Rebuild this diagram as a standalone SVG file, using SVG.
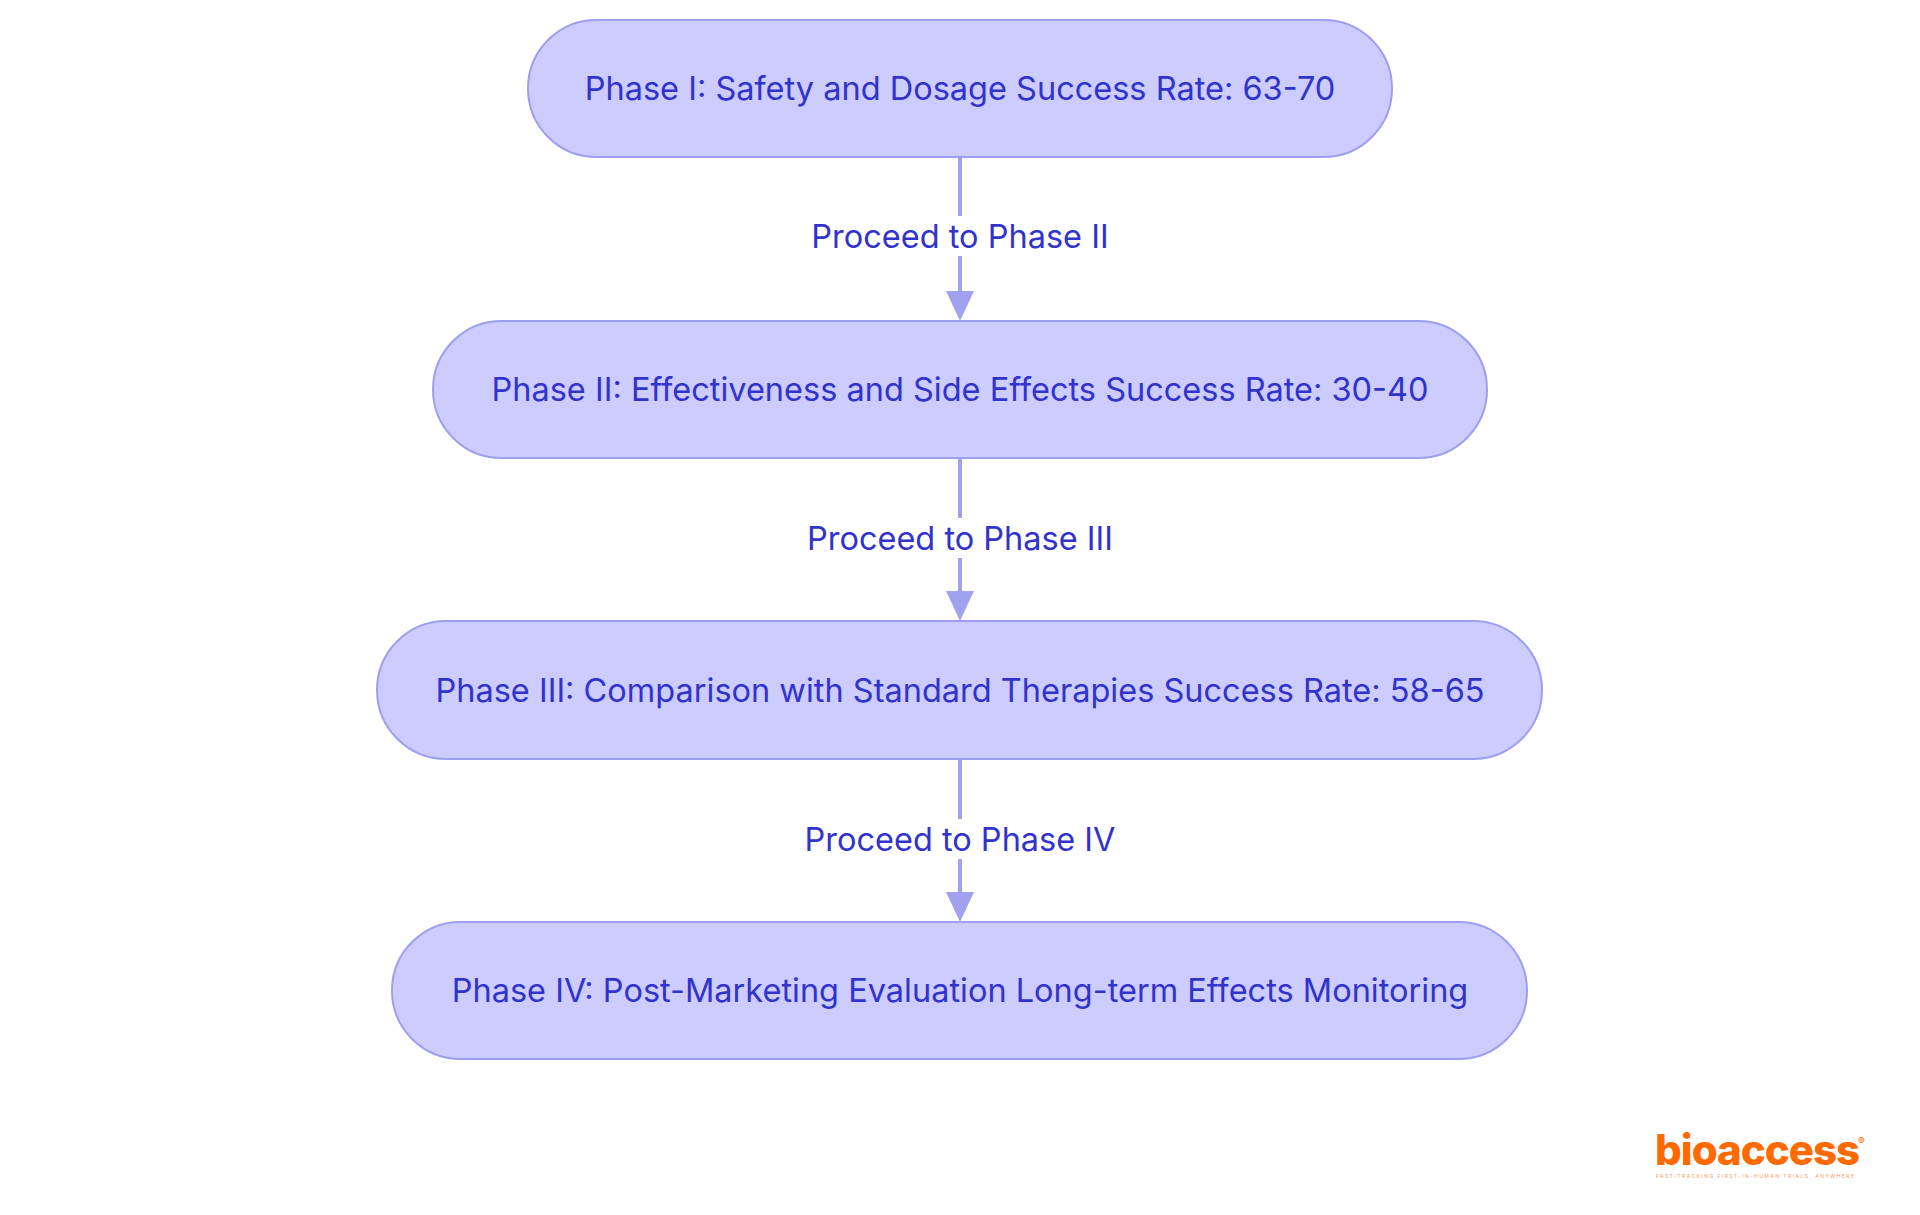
<svg xmlns="http://www.w3.org/2000/svg" width="1920" height="1215" viewBox="0 0 1920 1215">
<style>
.n{fill:#ccccff;stroke:#9d9ff0;stroke-width:2}
.t{font-family:Inter,"Noto Sans",sans-serif;font-size:32.5px;fill:#3232cc;text-anchor:middle;dominant-baseline:central}
.e{stroke:#a0a2f0;stroke-width:4;fill:none}
.h{fill:#a0a2f0}
.lb{fill:#ffffff}
</style>
<rect width="1920" height="1215" fill="#fff"/>
<g id="edges">
<line class="e" x1="960" y1="157" x2="960" y2="291"/><path class="h" d="M946,291 L974,291 L960,321 Z"/>
<rect class="lb" x="800" y="216" width="320" height="40"/><text class="t" x="960" y="236">Proceed to Phase II</text>
<line class="e" x1="960" y1="458" x2="960" y2="591"/><path class="h" d="M946,591 L974,591 L960,621 Z"/>
<rect class="lb" x="795" y="518" width="330" height="40"/><text class="t" x="960" y="538">Proceed to Phase III</text>
<line class="e" x1="960" y1="759" x2="960" y2="892"/><path class="h" d="M946,892 L974,892 L960,922 Z"/>
<rect class="lb" x="793" y="819" width="334" height="40"/><text class="t" x="960" y="839">Proceed to Phase IV</text>
</g>
<g id="n1"><rect class="n" x="528" y="20" width="864" height="137" rx="68.5"/><text class="t" x="960" y="88">Phase I: Safety and Dosage Success Rate: 63-70</text></g>
<g id="n2"><rect class="n" x="433" y="321" width="1054" height="137" rx="68.5"/><text class="t" x="960" y="389">Phase II: Effectiveness and Side Effects Success Rate: 30-40</text></g>
<g id="n3"><rect class="n" x="377" y="621" width="1165" height="138" rx="69"/><text class="t" x="960" y="690">Phase III: Comparison with Standard Therapies Success Rate: 58-65</text></g>
<g id="n4"><rect class="n" x="392" y="922" width="1135" height="137" rx="68.5"/><text class="t" x="960" y="990">Phase IV: Post-Marketing Evaluation Long-term Effects Monitoring</text></g>
<g id="logo">
<text x="1655" y="1165" font-family="Inter,sans-serif" font-weight="800" font-size="42" fill="#ff6a00" letter-spacing="-1">bioaccess</text>
<text x="1858" y="1145" font-family="Inter,sans-serif" font-size="10" fill="#ff6a00">®</text>
<text x="1656" y="1178" font-family="Inter,sans-serif" font-size="5" fill="#ff9a55" textLength="198">FAST-TRACKING FIRST-IN-HUMAN TRIALS, ANYWHERE</text>
</g>
</svg>
